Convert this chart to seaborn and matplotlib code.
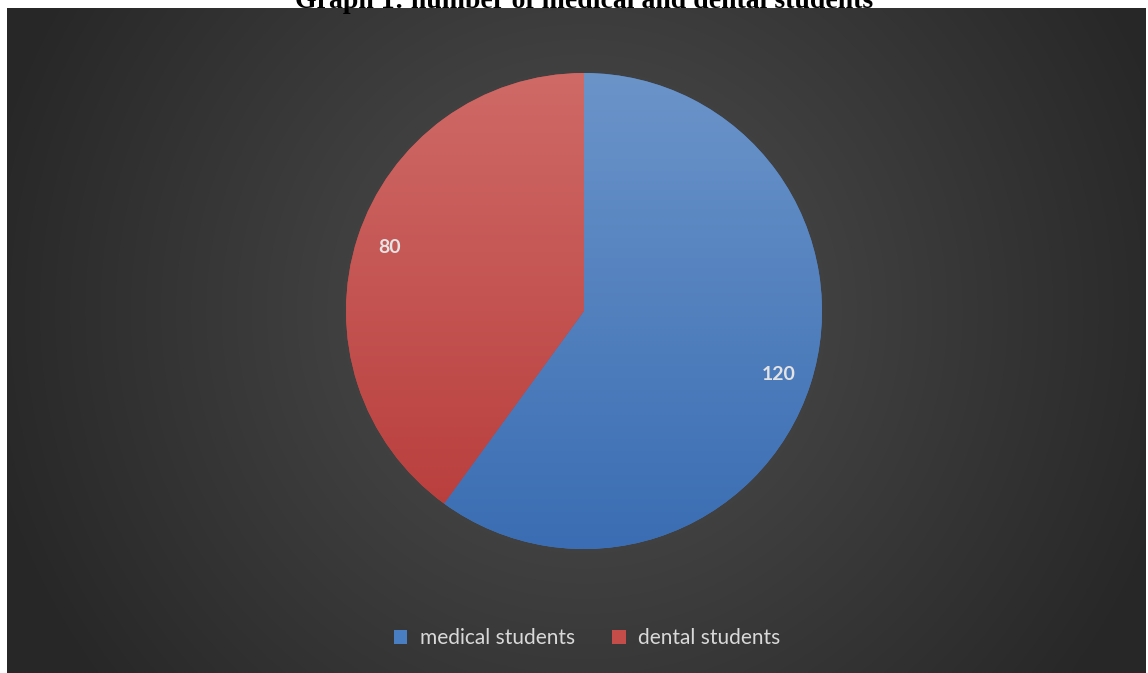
import numpy as np
import matplotlib
matplotlib.use("Agg")
import matplotlib.pyplot as plt
import seaborn as sns
from matplotlib.patches import Patch

categories = ["medical students", "dental students"]
values = [120, 80]
title = "Graph 1: number of medical and dental students"

sns.set_theme(style="white")
plt.rcParams['font.family'] = ['Lato', 'DejaVu Sans']

W, H = 1148, 673
fig = plt.figure(figsize=(W / 100, H / 100), dpi=100)
fig.patch.set_facecolor("white")

# background panel with radial gradient (pixel-circular)
px0, px1, py0, py1 = 7, 1146, 8, 673
bg = fig.add_axes([px0 / W, 0, (px1 - px0) / W, (py1 - py0) / H])
bg.set_axis_off()
nx, ny = px1 - px0, py1 - py0
yy, xx = np.mgrid[0:ny, 0:nx]
cx, cy = 584 - px0, 311 - py0
d = np.sqrt((xx - cx) ** 2 + (yy - cy) ** 2)
r = np.clip(d / 620, 0, 1)
inner = np.array([0x50, 0x50, 0x50]) / 255
outer = np.array([0x27, 0x27, 0x27]) / 255
img = inner[None, None, :] * (1 - r[..., None]) + outer[None, None, :] * r[..., None]
bg.imshow(img, aspect="auto", extent=[0, 1, 0, 1], origin="upper", interpolation="bilinear")
bg.set_xlim(0, 1)
bg.set_ylim(0, 1)

# pie axes
cxp, cyp, R = 584, 311, 238
ax = fig.add_axes([(cxp - R) / W, (H - cyp - R) / H, 2 * R / W, 2 * R / H])
ax.set_axis_off()
palette = ["#4a7ec2", "#c44d4a"]
total = sum(values)
wedges, texts, autotexts = ax.pie(
    values, startangle=90, counterclock=False, colors=palette,
    autopct=lambda p: f"{p * total / 100:.0f}", pctdistance=0.86,
    wedgeprops=dict(linewidth=0, edgecolor="none"),
    textprops=dict(color="#e3e3e3", fontsize=14, fontweight="bold"),
)
ax.set_aspect("auto")

# vertical gradients for wedges
grads = [("#6b94c9", "#3a6db3"), ("#cf6a67", "#b73b39")]
g = np.linspace(0, 1, 256)[:, None]
for w, (top, bot) in zip(wedges, grads):
    t = np.array(matplotlib.colors.to_rgb(top))
    b = np.array(matplotlib.colors.to_rgb(bot))
    im_arr = t[None, None, :] * (1 - g[..., None]) + b[None, None, :] * g[..., None]
    im_arr = np.repeat(im_arr, 2, axis=1)
    im = ax.imshow(im_arr, extent=[-1, 1, -1, 1], origin="upper", aspect="auto", zorder=1)
    im.set_clip_path(w)
    w.set_zorder(0.5)
for t in autotexts:
    t.set_zorder(5)
ax.set_xlim(-1, 1)
ax.set_ylim(-1, 1)

# legend
handles = [Patch(facecolor=c, edgecolor="none") for c in palette]
fig.legend(handles, categories, loc="center", bbox_to_anchor=(587 / W, 1 - 638 / H),
           ncol=2, frameon=False, fontsize=15, labelcolor="#d9d9d9",
           handlelength=0.65, handleheight=0.65, handletextpad=0.6, columnspacing=1.8)

# title (cut off at top, as in the original)
fig.text(584 / W, 1 - 1 / H, title, ha="center", va="center",
         fontsize=20, fontweight="bold", family=["Liberation Serif", "DejaVu Serif"], color="black")

fig.savefig("out.png", dpi=100, facecolor="white")
